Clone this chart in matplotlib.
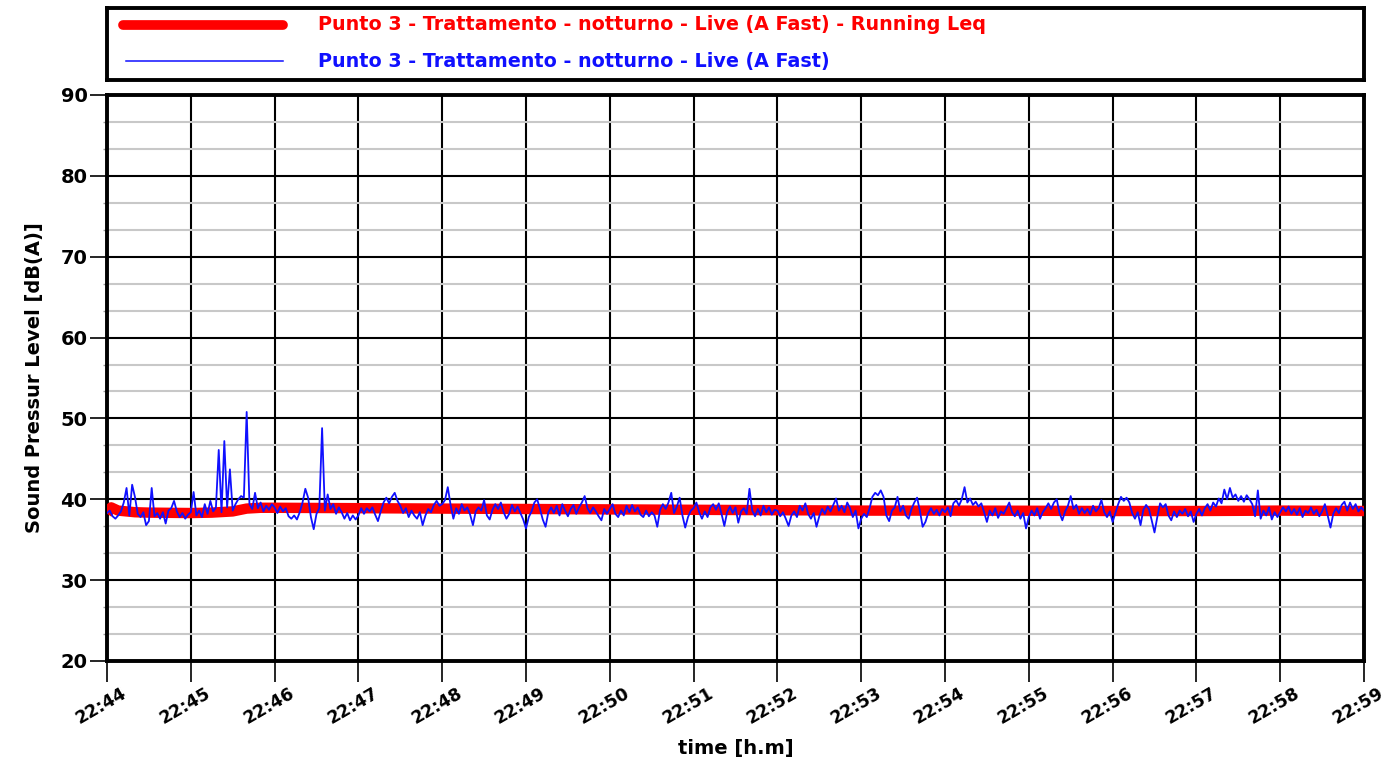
import numpy as np
import matplotlib
matplotlib.use("Agg")
import matplotlib.pyplot as plt
from matplotlib.transforms import ScaledTranslation
from matplotlib.ticker import MultipleLocator

# Live (A Fast) level, one reading every 2 s, 22:44:00 -> 22:59:00
live_db = [
    # 22:44
    38.3, 38.6, 37.9, 37.6, 38.0, 38.5, 39.6, 41.4, 38.0, 41.8,
    40.3, 38.2, 37.8, 38.4, 36.8, 37.3, 41.4, 37.9, 38.3, 37.6,
    38.4, 37.0, 38.6, 38.9, 39.8, 38.5, 37.8, 38.3, 37.6, 38.1,
    # 22:45
    38.4, 40.9, 38.0, 38.6, 37.8, 39.4, 38.2, 39.8, 38.5, 39.0,
    46.1, 38.4, 47.2, 39.0, 43.7, 38.6, 39.4, 40.0, 40.4, 40.2,
    50.8, 39.4, 38.8, 40.8, 38.9, 39.6, 38.5, 39.2, 38.7, 39.4,
    # 22:46
    39.0, 38.3, 39.1, 38.5, 38.9, 37.9, 37.6, 38.0, 37.5, 38.4,
    39.6, 41.3, 40.2, 37.8, 36.3, 38.2, 38.9, 48.8, 38.6, 40.6,
    38.8, 39.4, 38.2, 39.0, 38.4, 37.6, 38.3, 37.4, 38.0, 37.5,
    # 22:47
    38.0, 38.9, 38.2, 38.9, 38.5, 39.0, 38.1, 37.3, 38.5, 39.6,
    40.2, 39.5, 40.3, 40.8, 39.8, 39.2, 38.3, 38.9, 37.8, 38.6,
    38.0, 37.6, 38.4, 36.8, 38.0, 38.8, 38.4, 39.3, 39.8, 39.2,
    # 22:48
    39.4, 39.9, 41.5, 39.3, 37.6, 38.9, 38.2, 39.4, 38.6, 39.0,
    38.1, 36.8, 38.5, 39.0, 38.6, 39.9, 38.0, 37.5, 38.7, 39.4,
    38.8, 39.6, 38.4, 37.6, 38.2, 39.3, 38.5, 39.1, 38.3, 37.5,
    # 22:49
    36.4, 37.8, 38.5, 39.6, 40.0, 38.8, 37.5, 36.6, 38.4, 39.0,
    38.3, 39.2, 38.0, 39.4, 38.6, 37.9, 38.8, 39.3, 38.2, 39.0,
    39.6, 40.4, 38.9, 38.3, 39.0, 38.5, 37.9, 37.4, 38.8, 38.2,
    # 22:50
    38.8, 39.4, 38.2, 37.8, 38.6, 38.0, 39.2, 38.4, 39.3, 38.5,
    39.0, 38.1, 37.8, 38.6, 37.9, 38.4, 38.0, 36.6, 38.7, 39.4,
    38.8, 39.6, 40.8, 38.3, 39.1, 40.2, 38.0, 36.5, 37.8, 38.6,
    # 22:51
    38.9, 39.6, 38.4, 37.6, 38.5, 37.8, 39.0, 39.4, 38.7, 39.5,
    38.2, 36.7, 38.4, 39.1, 38.3, 39.0, 37.1, 38.5, 38.9, 38.2,
    41.3, 38.6, 37.9, 38.8, 38.0, 39.2, 38.4, 39.0, 38.1, 38.7,
    # 22:52
    38.6, 37.9, 38.4, 37.6, 36.7, 38.0, 38.5, 37.8, 39.2, 38.6,
    39.5, 38.2, 37.6, 38.3, 36.6, 37.9, 38.8, 38.2, 39.1, 38.5,
    39.3, 40.1, 38.6, 39.2, 38.4, 39.6, 38.9, 37.8, 38.6, 36.4,
    # 22:53
    37.6, 38.2, 37.8, 38.9, 40.3, 40.8, 40.5, 41.1, 40.3, 38.0,
    37.3, 38.6, 39.0, 40.3, 38.5, 39.2, 38.0, 37.6, 38.8, 39.6,
    40.2, 38.6, 36.6, 37.2, 38.3, 38.9, 38.2, 38.7, 38.0, 38.8,
    # 22:54
    38.4, 39.0, 37.9, 39.5, 39.9, 39.2, 40.0, 41.5, 39.6, 40.1,
    39.3, 39.7, 39.1, 39.5, 38.4, 37.2, 38.6, 38.0, 38.9, 37.7,
    38.5, 38.2, 38.9, 39.6, 38.4, 37.9, 38.6, 37.6, 38.3, 36.4,
    # 22:55
    37.8, 38.6, 38.0, 38.9, 37.6, 38.4, 38.9, 39.5, 38.8, 39.6,
    40.0, 38.3, 37.4, 38.5, 39.2, 40.4, 38.8, 39.3, 38.2, 38.9,
    38.3, 38.8, 38.1, 39.2, 38.5, 38.9, 39.9, 38.4, 37.8, 38.5,
    # 22:56
    37.2, 38.3, 39.4, 40.3, 39.8, 40.2, 39.6, 38.3, 37.6, 38.4,
    36.8, 38.7, 39.3, 38.8, 37.4, 35.9, 37.8, 39.5, 39.0, 39.4,
    38.0, 37.4, 38.5, 37.8, 38.6, 38.2, 38.8, 37.9, 38.5, 37.2,
    # 22:57
    38.2, 38.8, 38.0, 38.9, 39.4, 38.6, 39.6, 39.1, 40.1, 39.5,
    41.2, 40.0, 41.4, 40.2, 40.6, 39.8, 40.4, 39.7, 40.5, 40.0,
    39.4, 37.9, 41.1, 37.6, 38.6, 38.0, 39.0, 37.5, 38.4, 37.8,
    # 22:58
    38.4, 39.0, 38.5, 39.1, 38.2, 38.8, 38.1, 38.9, 37.8, 38.6,
    38.3, 39.0, 38.2, 38.7, 37.9, 38.5, 39.4, 38.0, 36.5, 38.2,
    38.9, 38.3, 39.3, 39.7, 38.6, 39.6, 38.8, 39.4, 38.5, 39.0,
    # 22:59
    38.6,
]

# Running Leq, read at irregular times (seconds from 22:44)
leq_t = [0, 3, 8, 20, 30, 60, 75, 90, 100, 110, 120, 180, 240, 300,
         360, 420, 480, 540, 600, 660, 720, 780, 840, 900]
leq_db = [38.2, 39.0, 38.6, 38.4, 38.35, 38.3, 38.35, 38.5, 38.85, 38.95,
          38.95, 38.9, 38.85, 38.8, 38.75, 38.7, 38.65, 38.6, 38.6, 38.58,
          38.55, 38.55, 38.6, 38.55]

tick_labels = ["22:44", "22:45", "22:46", "22:47", "22:48", "22:49", "22:50",
               "22:51", "22:52", "22:53", "22:54", "22:55", "22:56", "22:57",
               "22:58", "22:59"]

label_red = "Punto 3 - Trattamento - notturno - Live (A Fast) - Running Leq"
label_blue = "Punto 3 - Trattamento - notturno - Live (A Fast)"

plt.rcParams["font.family"] = ["DejaVu Sans"]
plt.rcParams["font.weight"] = "bold"

W, H = 1395, 767
fig = plt.figure(figsize=(W / 100, H / 100), dpi=100)

# main plot
ax = fig.add_axes((107 / W, 1 - 661 / H, (1364 - 107) / W, (661 - 95) / H))
t_live = np.arange(len(live_db)) * 2.0
ax.plot(leq_t, leq_db, color="#ff0000", lw=7.5, solid_capstyle="butt", zorder=3)
ax.plot(t_live, live_db, color="#1010ff", lw=1.3, zorder=4)

ax.set_xlim(0, 900)
ax.set_ylim(20, 90)
x_ticks = np.arange(0, 901, 60)
ax.set_xticks(x_ticks)
ax.set_xticklabels([])
# rotated labels placed by hand so their right end sits just past the tick
off = ScaledTranslation(14 / 100, -23 / 100, fig.dpi_scale_trans)
for xt, lab in zip(x_ticks, tick_labels):
    ax.text(xt, 0, lab, transform=ax.get_xaxis_transform() + off,
            fontsize=12.5, fontweight="bold", rotation=30,
            ha="right", va="top", rotation_mode="anchor", clip_on=False)

ax.yaxis.set_major_locator(MultipleLocator(10))
ax.yaxis.set_minor_locator(MultipleLocator(10 / 3))
ax.tick_params(axis="y", which="major", length=12, width=1.2, labelsize=14, pad=2)
ax.tick_params(axis="y", which="minor", length=3, width=1, color="#999999")
ax.tick_params(axis="x", which="major", length=15, width=1.2, pad=4)
for lbl in ax.get_yticklabels():
    lbl.set_fontweight("bold")

ax.grid(True, which="major", axis="both", color="black", lw=1.5, zorder=1)
ax.grid(True, which="minor", axis="y", color="#c8c8c8", lw=1.5, zorder=0)
ax.set_axisbelow(True)
for s in ax.spines.values():
    s.set_linewidth(2.8)

ax.text(0.5, -0.155, "time [h.m]", transform=ax.transAxes, fontsize=14,
        fontweight="bold", ha="center", va="center")
ax.set_ylabel("Sound Pressur Level [dB(A)]", fontsize=14, fontweight="bold", labelpad=12)

# legend box
lax = fig.add_axes((107 / W, 1 - 80 / H, (1364 - 107) / W, (80 - 8) / H))
lax.set_xlim(0, 1364 - 107)
lax.set_ylim(72, 0)
lax.set_xticks([])
lax.set_yticks([])
for s in lax.spines.values():
    s.set_linewidth(2.8)
lax.plot([16, 176], [17, 17], color="#ff0000", lw=7, solid_capstyle="round")
lax.plot([19, 176], [53, 53], color="#1010ff", lw=1.1)
lax.text(211, 17, label_red, color="#ff0000", fontsize=13.8, fontweight="bold", va="center")
lax.text(211, 53, label_blue, color="#1010ff", fontsize=13.8, fontweight="bold", va="center")

fig.savefig("out.png", dpi=100)
